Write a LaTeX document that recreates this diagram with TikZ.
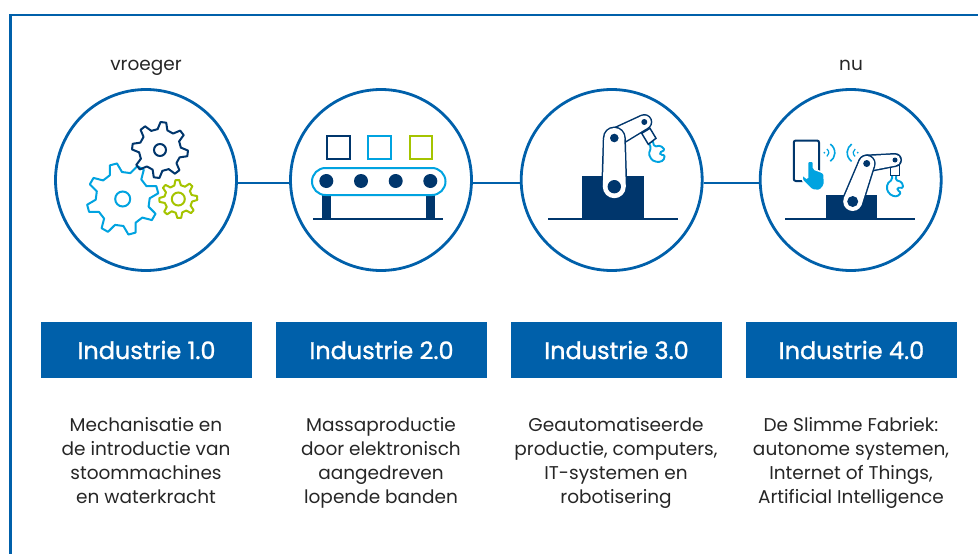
\documentclass[tikz,border=0pt]{standalone}
\usepackage{fontspec}
\setmainfont{Poppins}
\newfontfamily\titlefont[FakeBold=1.2]{Poppins}
\usetikzlibrary{calc}
\definecolor{framblue}{HTML}{0060AA}
\definecolor{navy}{HTML}{00366C}
\definecolor{skyblue}{HTML}{00A3E0}
\definecolor{limegreen}{HTML}{A5C400}

% gear: centre, root radius, outer radius, teeth, angle of first tooth
\newcommand{\gear}[5]{%
  \draw[line join=round] ($(#1)+(#5-.13*360/#4:#3pt)$)
    \foreach \t [evaluate=\t as \a using #5+(\t-1)*360/#4, evaluate=\t as \s using 360/#4] in {1,...,#4} {
      -- ($(#1)+(\a+.13*\s:#3pt)$) -- ($(#1)+(\a+.30*\s:#2pt)$) -- ($(#1)+(\a+.70*\s:#2pt)$) -- ($(#1)+(\a+.87*\s:#3pt)$)
    } -- cycle;
}
% arm piece: end a, radius a, end b, radius b
\newcommand{\armlink}[4]{%
  \path[fill=navy] (#1) circle ({#2+1.5pt}) (#3) circle ({#4+1.5pt});
  \fill[navy] ($(#1)!#2+1.5pt!90:(#3)$) -- ($(#3)!#4+1.5pt!-90:(#1)$) -- ($(#3)!#4+1.5pt!90:(#1)$) -- ($(#1)!#2+1.5pt!-90:(#3)$) -- cycle;
  \path[fill=white] (#1) circle (#2) (#3) circle (#4);
  \fill[white] ($(#1)!#2!90:(#3)$) -- ($(#3)!#4!-90:(#1)$) -- ($(#3)!#4!90:(#1)$) -- ($(#1)!#2!-90:(#3)$) -- cycle;
}
% wrench: head centre, rotation
\newcommand{\wrench}[2]{%
  \begin{scope}[shift={(#1)},rotate=#2]
    \draw[skyblue,line width=1.9pt,line join=round,rounded corners=1.5pt] (-9.3,-11) -- (-5.3,-13) -- (-3.3,-6.7) -- (3,-7.7) -- (7.3,-3.3) -- (1.7,-.7) -- (3,1.7) -- (7.3,1.7) -- (5.7,7.3) -- (0,9) -- (-6,6.7) -- (-9,.7) -- (-6.7,-5.7) -- cycle;
  \end{scope}
}

\begin{document}
\begin{tikzpicture}[x=1pt,y=-1pt,
    ring/.style={circle,draw=framblue,line width=2.8pt,fill=white,minimum size=181pt,inner sep=0pt},
    titlebox/.style={fill=framblue,text=white,minimum width=211pt,minimum height=56pt,inner sep=0pt,font=\fontsize{24}{26}\titlefont},
    infotext/.style={align=center,text=black!85,font=\fontsize{18.5}{24}\selectfont,
        execute at begin node={\rule{0pt}{14pt}},execute at end node={\rule[-5pt]{0pt}{5pt}}},
    timetext/.style={anchor=base,text=black!85,font=\fontsize{18.5}{20}\selectfont}]
    \useasboundingbox (0,0) rectangle (978,554);

    \coordinate (frameTL) at (10.5,15);
    \coordinate (frameTR) at (978,15);
    \coordinate (frameBL) at (10.5,554);
    \draw[framblue,line width=2.6pt] (frameBL) -- (frameTL) -- (frameTR); % frame

    \node[ring] (C1) at (146,180) {};
    \node[ring] (C2) at (381,180) {};
    \node[ring] (C3) at (611.7,180) {};
    \node[ring] (C4) at (850.7,180) {};
    \foreach \i/\j in {1/2,2/3,3/4}
        \draw[framblue,line width=2.2pt] (C\i.-2.7) -- (C\j.182.7);

    \node[timetext] (T1) at (146,70) {vroeger};
    \node[timetext] (T4) at (851,70) {nu};

    \node[titlebox] (B1) at (146.5,350) {Industrie 1.0};
    \node[titlebox] (B2) at (381.5,350) {Industrie 2.0};
    \node[titlebox] (B3) at (616.5,350) {Industrie 3.0};
    \node[titlebox] (B4) at (851.5,350) {Industrie 4.0};

    \node[infotext] (L1) at (146,463) {Mechanisatie en\\de introductie van\\stoommachines\\en waterkracht};
    \node[infotext] (L2) at (381,463) {Massaproductie\\door elektronisch\\aangedreven\\lopende banden};
    \node[infotext] (L3) at (616,463) {Geautomatiseerde\\productie, computers,\\IT-systemen en\\robotisering};
    \node[infotext] (L4) at (851,463) {De Slimme Fabriek:\\autonome systemen,\\Internet of Things,\\Artificial Intelligence};

    % gears
    \begin{scope}[line width=2pt]
    \begin{scope}[skyblue]
    \gear{122.7,199}{27}{36}{8}{-30}
    \draw (122.7,199) circle (7.5pt);
    \end{scope}
    \begin{scope}[navy]
    \gear{160,150}{21}{28}{8}{-7}
    \draw (160,150) circle (6pt);
    \end{scope}
    \begin{scope}[limegreen]
    \gear{178.3,199}{14}{19}{8}{3}
    \draw (178.3,199) circle (6.5pt);
    \end{scope}
    \end{scope}

    % conveyor
    \draw[navy,line width=2pt] (326.8,135.7) rectangle (349.8,158.7);
    \draw[skyblue,line width=2pt] (368,135.7) rectangle (391.3,158.7);
    \draw[limegreen,line width=2pt] (409.7,135.7) rectangle (432.3,158.7);
    \fill[navy] (322,195) rectangle (331,219);
    \fill[navy] (426,195) rectangle (435,219);
    \draw[navy,line width=2pt] (313.3,219.3) -- (443.3,219.3);
    \draw[skyblue,line width=2pt,rounded corners=13.5pt] (312,168) rectangle (445.5,195);
    \foreach \x in {326.3,361,395.7,430.3}
        \fill[navy] (\x,181) circle (7pt);

    % robot arm
    \draw[navy,line width=2pt] (548.3,219.3) -- (678,219.3);
    \fill[navy] (582,176) rectangle (644,219.3);
    \wrench{657.7,153.3}{0}
    \draw[navy,fill=white,line width=1.5pt] (641.7,133.3) -- (650,128.3) -- (656,138.3) -- (648.3,144.3) -- cycle;
    \armlink{644.3,122}{6.5pt}{614.3,138}{8.5pt}
    \armlink{614.3,138}{10pt}{614.3,186.7}{11.5pt}
    \fill[navy] (614.3,186.7) circle (6.7pt) (614.3,138) circle (4.3pt) (644.3,122) circle (3pt);

    % smart factory
    \draw[navy,line width=2pt] (785.3,219.3) -- (915,219.3);
    \fill[navy] (826,195) rectangle (877,219.3);
    \wrench{895.5,187.5}{-27}
    \draw[navy,fill=white,line width=1.5pt] (890.5,165) rectangle (899.3,175.5);
    \armlink{895,160}{5.5pt}{866.7,163.5}{7.5pt}
    \armlink{866.7,163.5}{7.5pt}{852.7,201.5}{9.5pt}
    \fill[navy] (852.7,201.5) circle (5.5pt) (866.7,163.5) circle (3.5pt) (895,160) circle (2.5pt);

    % tablet with hand
    \draw[navy,line width=2pt,rounded corners=2pt] (793.8,140.5) rectangle (819,181);
    \draw[draw=white,fill=skyblue,line width=1.5pt,rounded corners=1.5pt] (807.5,161) -- (813.3,161) -- (813.5,169) -- (824,173) -- (824.5,185) -- (820,190.5) -- (812,190) -- (802,180) -- (802.5,174.5) -- (807.5,179) -- cycle;

    % signal waves
    \coordinate (W1) at (824.3,152.7);
    \coordinate (W2) at (857.7,152.7);
    \fill[skyblue] (W1) circle (1pt) (W2) circle (1pt);
    \foreach \r/\w in {4.5/1.2pt,10.5/1.6pt} {
        \draw[skyblue,line width=\w] (W1) ++(-55:\r) arc (-55:55:\r);
        \draw[skyblue,line width=\w] (W2) ++(125:\r) arc (125:235:\r);
    }
    \end{tikzpicture}
\end{document}
